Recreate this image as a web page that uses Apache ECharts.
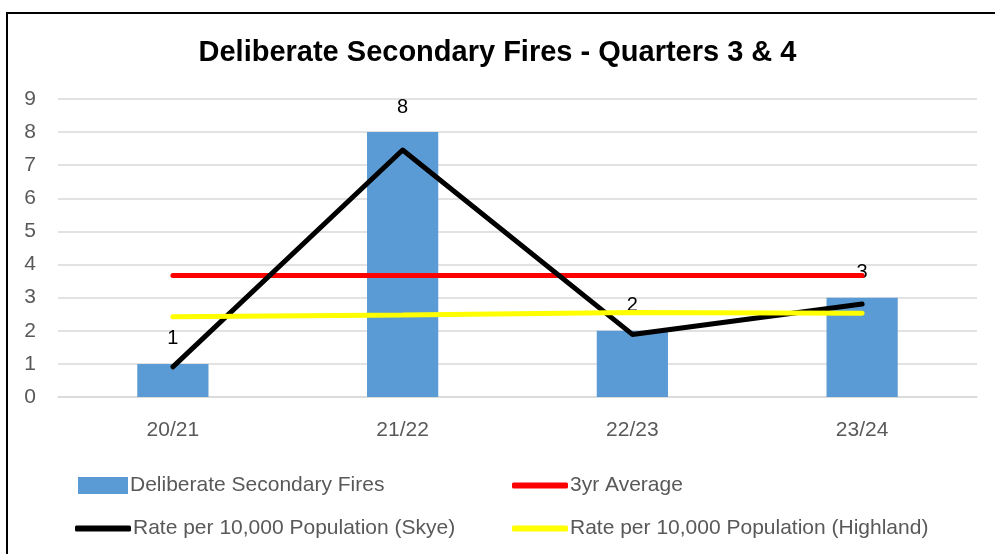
<!DOCTYPE html>
<html>
<head>
<meta charset="utf-8">
<script src="https://cdn.jsdelivr.net/npm/echarts@6/dist/echarts.min.js"></script>
<style>
	html, body { margin: 0; padding: 0; background: #fff; }
	#main { width: 995px; height: 554px; }
</style>
</head>
<body>
<div id="main"></div>
<script>
	// 数据
	var quarters = ['20/21', '21/22', '22/23', '23/24'];
	var fires = [1, 8, 2, 3];
	var threeYrAvg = [3.67, 3.67, 3.67, 3.67];
	var rateSkye = [0.91, 7.46, 1.89, 2.81];
	var rateHighland = [2.42, 2.48, 2.55, 2.53];
	var yTicks = [0, 1, 2, 3, 4, 5, 6, 7, 8, 9];

	var font = 'Liberation Sans, Arial, sans-serif';
	var grey = '#595959';

	var myChart = echarts.init(document.getElementById('main'));

	function legendItem(name, left, top, icon, w, h) {
		return {
			data: [name],
			left: left,
			top: top,
			icon: icon,
			itemWidth: w,
			itemHeight: h,
			itemGap: 0,
			textStyle: { fontFamily: font, fontSize: 21, color: grey, padding: [0, 0, 0, -3] }
		};
	}

	var option = {
		backgroundColor: '#fff',
		animation: false,
		title: {
			text: 'Deliberate Secondary Fires - Quarters 3 & 4',
			left: 'center',
			top: 33,
			textStyle: { fontFamily: font, fontSize: 29, fontWeight: 'bold', color: '#000' }
		},
		graphic: [{
			type: 'rect',
			shape: { x: 7, y: 13, width: 1000, height: 560 },
			style: { fill: 'none', stroke: '#000', lineWidth: 2 },
			silent: true
		}],
		legend: [
			legendItem('Deliberate Secondary Fires', 73, 470, 'rect', 50, 17),
			legendItem('3yr Average', 507, 470, 'roundRect', 56, 6),
			legendItem('Rate per 10,000 Population (Skye)', 70, 513, 'roundRect', 56, 6),
			legendItem('Rate per 10,000 Population (Highland)', 507, 513, 'roundRect', 56, 6)
		],
		grid: { left: 58, right: 18, top: 99, bottom: 157 },
		xAxis: {
			type: 'category',
			data: quarters,
			axisTick: { show: false },
			axisLine: { lineStyle: { color: '#d9d9d9', width: 1.5 } },
			axisLabel: { fontFamily: font, fontSize: 21, color: grey, margin: 23 }
		},
		yAxis: {
			type: 'value',
			min: yTicks[0],
			max: yTicks[yTicks.length - 1],
			interval: 1,
			axisLabel: { fontFamily: font, fontSize: 21, color: grey, margin: 22, align: 'right' },
			splitLine: { lineStyle: { color: '#d9d9d9', width: 1.5 } },
			axisLine: { show: false },
			axisTick: { show: false }
		},
		series: [{
			name: 'Deliberate Secondary Fires',
			type: 'bar',
			data: fires,
			barWidth: '31%',
			itemStyle: { color: '#5b9bd5' },
			label: {
				show: true,
				position: 'top',
				distance: 15,
				fontFamily: font,
				fontSize: 20,
				color: '#000'
			},
			z: 1
		}, {
			name: '3yr Average',
			type: 'line',
			data: threeYrAvg,
			symbol: 'none',
			lineStyle: { color: '#ff0000', width: 5, cap: 'round' },
			itemStyle: { color: '#ff0000' },
			z: 2
		}, {
			name: 'Rate per 10,000 Population (Skye)',
			type: 'line',
			data: rateSkye,
			symbol: 'none',
			lineStyle: { color: '#000', width: 5, cap: 'round', join: 'round' },
			itemStyle: { color: '#000' },
			z: 3
		}, {
			name: 'Rate per 10,000 Population (Highland)',
			type: 'line',
			data: rateHighland,
			symbol: 'none',
			lineStyle: { color: '#ffff00', width: 5, cap: 'round' },
			itemStyle: { color: '#ffff00' },
			z: 4
		}]
	};
	myChart.setOption(option);
</script>
</body>
</html>
